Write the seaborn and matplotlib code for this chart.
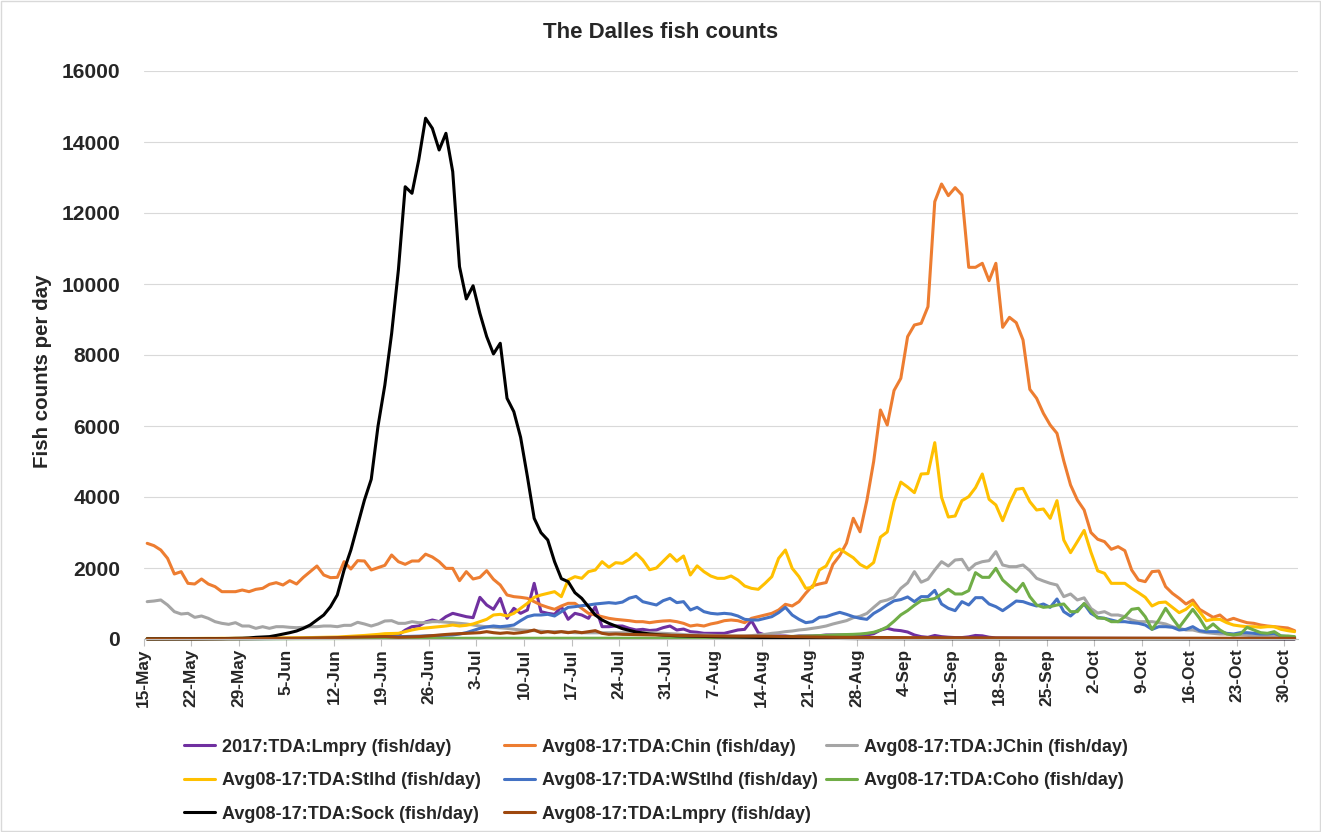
import numpy as np
import pandas as pd
import matplotlib
matplotlib.use("Agg")
import matplotlib.pyplot as plt
from matplotlib.lines import Line2D
from matplotlib.patches import Rectangle
import seaborn as sns

# ---------------- data (daily, 15-May .. 31-Oct) ----------------
start_date = "2017-05-15"
end_date = "2017-10-31"
tick_labels = ["15-May", "22-May", "29-May", "5-Jun", "12-Jun", "19-Jun", "26-Jun",
               "3-Jul", "10-Jul", "17-Jul", "24-Jul", "31-Jul", "7-Aug", "14-Aug",
               "21-Aug", "28-Aug", "4-Sep", "11-Sep", "18-Sep", "25-Sep", "2-Oct",
               "9-Oct", "16-Oct", "23-Oct", "30-Oct"]
y_ticks = [0, 2000, 4000, 6000, 8000, 10000, 12000, 14000, 16000]

lmpry_2017 = [
    5, 5, 5, 5, 5, 6, 6, 6, 7, 7,
    7, 8, 8, 8, 9, 9, 10, 10, 11, 12,
    13, 14, 15, 17, 19, 22, 25, 30, 35, 40,
    45, 50, 55, 60, 70, 80, 95, 113, 250, 347,
    366, 480, 535, 488, 629, 723, 676, 629, 601, 1174,
    958, 836, 1146, 582, 864, 723, 817, 1568, 770, 723,
    695, 911, 554, 723, 676, 582, 911, 347, 347, 366,
    366, 300, 254, 272, 240, 254, 320, 366, 254, 280,
    207, 190, 160, 160, 160, 160, 207, 254, 272, 517,
    178, 113, 85, 85, 85, 66, 85, 85, 85, 94,
    113, 113, 113, 113, 113, 113, 113, 150, 250, 300,
    254, 235, 197, 113, 66, 47, 100, 66, 50, 40,
    40, 60, 100, 90, 50, 30, 28, 26, 25, 25,
    25, 24, 23, 22, 22, 21, 20, 20, 20, 20,
    19, 19, 18, 18, 18, 17, 17, 16, 16, 15,
    15, 15, 14, 14, 14, 13, 13, 12, 12, 12,
    11, 11, 11, 10, 10, 10, 10, 9, 9, 9]

chin = [
    2695, 2629, 2507, 2272, 1831, 1897, 1568, 1549, 1690, 1549,
    1474, 1333, 1333, 1333, 1380, 1333, 1399, 1427, 1540, 1587,
    1521, 1643, 1549, 1737, 1897, 2056, 1803, 1728, 1737, 2178,
    1972, 2207, 2197, 1944, 2009, 2075, 2366, 2178, 2103, 2197,
    2197, 2390, 2310, 2178, 1990, 1990, 1643, 1897, 1690, 1737,
    1925, 1681, 1521, 1240, 1193, 1174, 1146, 1052, 958, 892,
    836, 930, 1005, 1005, 864, 723, 676, 629, 582, 554,
    535, 516, 488, 488, 460, 488, 507, 516, 488, 441,
    366, 394, 366, 423, 460, 516, 535, 516, 460, 582,
    629, 676, 723, 817, 977, 930, 1052, 1290, 1500, 1550,
    1590, 2100, 2350, 2700, 3400, 3020, 3900, 5000, 6451, 6028,
    7000, 7343, 8517, 8845, 8892, 9362, 12320, 12817, 12489, 12714,
    12508, 10470, 10470, 10583, 10094, 10583, 8780, 9061, 8911, 8423,
    7033, 6780, 6357, 6028, 5794, 5020, 4338, 3916, 3634, 3000,
    2810, 2742, 2526, 2601, 2488, 1944, 1662, 1615, 1897, 1916,
    1474, 1286, 1146, 986, 1099, 836, 723, 610, 676, 516,
    582, 516, 460, 441, 394, 366, 347, 329, 310, 235]

jchin = [
    1052, 1070, 1099, 958, 770, 704, 723, 610, 648, 582,
    488, 441, 413, 460, 366, 366, 300, 347, 300, 347,
    347, 329, 319, 329, 347, 347, 366, 366, 347, 385,
    385, 470, 423, 366, 423, 507, 516, 441, 441, 488,
    460, 460, 488, 488, 475, 460, 440, 423, 395, 366,
    345, 329, 315, 300, 275, 254, 245, 235, 220, 207,
    207, 207, 190, 178, 175, 175, 175, 175, 175, 175,
    175, 175, 178, 178, 178, 170, 160, 150, 141, 125,
    113, 113, 113, 105, 94, 90, 85, 85, 85, 95,
    113, 131, 160, 178, 207, 225, 254, 272, 300, 329,
    366, 423, 470, 517, 600, 640, 720, 890, 1052, 1099,
    1180, 1427, 1580, 1897, 1600, 1685, 1944, 2178, 2056, 2225,
    2244, 1944, 2113, 2178, 2207, 2460, 2085, 2038, 2038, 2085,
    1925, 1709, 1634, 1568, 1521, 1193, 1268, 1099, 1160, 860,
    730, 770, 676, 676, 629, 535, 488, 488, 488, 460,
    423, 347, 300, 254, 254, 207, 178, 160, 141, 141,
    113, 113, 103, 85, 85, 85, 85, 66, 47, 28]

stlhd = [
    15, 12, 14, 12, 15, 13, 14, 16, 15, 18,
    17, 20, 18, 22, 20, 24, 22, 25, 24, 28,
    30, 32, 35, 38, 40, 45, 48, 52, 55, 66,
    80, 90, 100, 115, 130, 150, 155, 160, 207, 254,
    291, 310, 329, 347, 366, 394, 366, 385, 423, 488,
    554, 676, 695, 648, 723, 864, 1005, 1174, 1240, 1287,
    1333, 1193, 1662, 1756, 1709, 1897, 1944, 2178, 2019, 2150,
    2131, 2244, 2413, 2225, 1950, 2000, 2190, 2380, 2190, 2338,
    1803, 2060, 1897, 1775, 1709, 1709, 1775, 1662, 1493, 1427,
    1399, 1568, 1756, 2272, 2507, 1991, 1756, 1427, 1455, 1944,
    2056, 2413, 2535, 2413, 2290, 2100, 2000, 2155, 2870, 3015,
    3869, 4420, 4280, 4122, 4648, 4660, 5531, 3990, 3436, 3465,
    3897, 4010, 4263, 4648, 3934, 3775, 3333, 3822, 4216, 4244,
    3869, 3634, 3662, 3399, 3897, 2789, 2432, 2742, 3060, 2446,
    1920, 1850, 1568, 1568, 1568, 1427, 1305, 1174, 930, 1024,
    1042, 892, 742, 836, 1005, 770, 516, 554, 554, 460,
    394, 366, 347, 347, 329, 347, 347, 272, 235, 207]

wstlhd = [
    5, 5, 5, 5, 5, 5, 5, 5, 5, 5,
    6, 6, 6, 7, 7, 8, 8, 9, 9, 10,
    10, 11, 12, 13, 14, 16, 18, 20, 22, 25,
    28, 32, 36, 40, 45, 50, 55, 66, 70, 75,
    80, 88, 94, 100, 105, 113, 140, 178, 240, 300,
    340, 366, 347, 366, 394, 516, 629, 676, 676, 695,
    648, 770, 892, 911, 939, 958, 986, 1005, 1024, 1005,
    1040, 1150, 1200, 1050, 1005, 958, 1080, 1146, 1024, 1052,
    817, 892, 770, 723, 704, 723, 704, 648, 554, 535,
    535, 582, 629, 742, 892, 676, 554, 460, 488, 610,
    629, 695, 751, 695, 629, 582, 554, 720, 830, 960,
    1075, 1110, 1185, 1052, 1193, 1193, 1370, 986, 864, 798,
    1052, 958, 1164, 1164, 986, 911, 798, 930, 1070, 1052,
    986, 930, 986, 892, 1127, 770, 648, 817, 986, 723,
    610, 582, 535, 488, 488, 460, 441, 394, 272, 347,
    347, 329, 254, 272, 347, 235, 207, 207, 207, 160,
    141, 178, 178, 160, 141, 141, 160, 85, 66, 47]

coho = [
    2, 2, 2, 3, 3, 3, 3, 4, 4, 4,
    4, 5, 5, 5, 5, 6, 6, 6, 7, 7,
    8, 8, 9, 9, 10, 10, 11, 11, 12, 12,
    13, 13, 14, 14, 15, 15, 16, 16, 17, 17,
    18, 18, 18, 19, 19, 19, 19, 20, 20, 20,
    20, 20, 20, 20, 20, 20, 20, 20, 20, 20,
    20, 20, 20, 20, 20, 20, 20, 20, 20, 20,
    20, 20, 20, 20, 20, 22, 24, 26, 28, 30,
    32, 35, 38, 42, 47, 50, 52, 55, 57, 60,
    62, 63, 64, 65, 66, 70, 75, 80, 88, 94,
    103, 113, 120, 125, 131, 141, 160, 190, 250, 340,
    500, 680, 800, 950, 1080, 1105, 1140, 1268, 1399, 1268,
    1268, 1362, 1869, 1737, 1737, 1991, 1662, 1493, 1333, 1568,
    1193, 958, 892, 911, 958, 986, 770, 770, 1000, 790,
    590, 582, 488, 488, 629, 836, 864, 629, 272, 535,
    864, 582, 329, 582, 836, 582, 272, 423, 254, 141,
    113, 141, 329, 254, 178, 160, 207, 85, 85, 66]

sock = [
    3, 3, 4, 4, 5, 5, 6, 6, 7, 8,
    10, 12, 15, 18, 22, 30, 47, 55, 66, 100,
    140, 178, 225, 300, 394, 535, 676, 911, 1240, 1944,
    2507, 3211, 3916, 4500, 6000, 7150, 8600, 10400, 12740, 12555,
    13500, 14670, 14385, 13775, 14245, 13165, 10490, 9580, 9950, 9175,
    8520, 8030, 8330, 6780, 6404, 5681, 4573, 3399, 2995, 2789,
    2178, 1700, 1615, 1305, 1146, 911, 676, 535, 441, 366,
    291, 244, 197, 169, 141, 125, 110, 100, 90, 85,
    80, 75, 70, 66, 62, 58, 55, 50, 47, 45,
    42, 38, 35, 32, 28, 26, 24, 22, 20, 19,
    17, 15, 14, 12, 11, 10, 10, 9, 9, 8,
    8, 7, 7, 7, 6, 6, 6, 6, 5, 5,
    5, 5, 5, 5, 5, 4, 4, 4, 4, 4,
    4, 4, 4, 4, 3, 3, 3, 3, 3, 3,
    3, 3, 3, 3, 3, 3, 2, 2, 2, 2,
    2, 2, 2, 2, 2, 2, 2, 2, 2, 2,
    2, 2, 2, 2, 2, 1, 1, 1, 1, 1]

lmpry_avg = [
    3, 3, 3, 4, 4, 4, 5, 5, 5, 6,
    6, 7, 7, 8, 8, 9, 10, 11, 12, 13,
    15, 17, 19, 22, 25, 28, 32, 36, 40, 45,
    50, 55, 58, 62, 66, 70, 60, 47, 55, 60,
    66, 80, 95, 113, 128, 141, 150, 160, 170, 178,
    207, 178, 160, 178, 160, 178, 207, 254, 178, 207,
    178, 207, 178, 207, 178, 207, 235, 160, 131, 141,
    131, 128, 125, 122, 118, 113, 110, 105, 100, 95,
    90, 88, 86, 84, 82, 80, 80, 80, 80, 80,
    80, 78, 75, 72, 70, 66, 62, 58, 55, 52,
    50, 48, 47, 46, 45, 44, 43, 42, 41, 40,
    40, 39, 38, 38, 37, 36, 36, 35, 35, 34,
    34, 33, 33, 32, 32, 31, 31, 30, 30, 30,
    29, 29, 28, 28, 28, 27, 27, 27, 26, 26,
    26, 25, 25, 25, 24, 24, 24, 24, 23, 23,
    23, 23, 22, 22, 22, 22, 21, 21, 21, 21,
    20, 20, 20, 20, 20, 19, 19, 19, 19, 18]

series_names = ["2017:TDA:Lmpry (fish/day)", "Avg08-17:TDA:Chin (fish/day)",
                "Avg08-17:TDA:JChin (fish/day)", "Avg08-17:TDA:Stlhd (fish/day)",
                "Avg08-17:TDA:WStlhd (fish/day)", "Avg08-17:TDA:Coho (fish/day)",
                "Avg08-17:TDA:Sock (fish/day)", "Avg08-17:TDA:Lmpry (fish/day)"]
series_values = [lmpry_2017, chin, jchin, stlhd, wstlhd, coho, sock, lmpry_avg]
series_colors = ["#7030A0", "#ED7D31", "#A5A5A5", "#FFC000",
                 "#4472C4", "#70AD47", "#000000", "#9E480E"]

dates = pd.date_range(start_date, end_date, freq="D")
for v in series_values:
    assert len(v) == len(dates), len(v)

frames = []
for name, vals in zip(series_names, series_values):
    frames.append(pd.DataFrame({"day": np.arange(len(dates)), "date": dates,
                                "series": name, "value": vals}))
df = pd.concat(frames, ignore_index=True)

# ---------------- style ----------------
sns.set_theme(style="white")
plt.rcParams["font.family"] = ["Liberation Sans", "DejaVu Sans"]
plt.rcParams["font.weight"] = "bold"

W, H = 1321, 832
fig = plt.figure(figsize=(W / 100, H / 100), dpi=100)
fig.patch.set_facecolor("white")
left_px, right_px, top_px, bottom_px = 143.8, 1298, 71, 639
ax = fig.add_axes([left_px / W, 1 - bottom_px / H,
                   (right_px - left_px) / W, (bottom_px - top_px) / H])

sns.lineplot(data=df, x="day", y="value", hue="series", hue_order=series_names,
             palette=series_colors, linewidth=2.2, legend=False, ax=ax,
             estimator=None, errorbar=None)
for ln in ax.lines:
    ln.set_clip_on(False)
    ln.set_solid_joinstyle("round")

ax.set_xlim(-0.5, len(dates) - 0.5)
ax.set_ylim(0, 16000)
ax.set_xticks([7 * k - 0.5 for k in range(len(tick_labels))])
ax.set_xticklabels(tick_labels, rotation=90, fontsize=12.4, fontweight="bold")
ax.set_yticks(y_ticks)
ax.set_yticklabels([str(t) for t in y_ticks], fontsize=15.1, fontweight="bold")
ax.tick_params(axis="x", length=5, width=0.8, color="#bfbfbf", pad=2, bottom=True)
ax.tick_params(axis="y", length=0, pad=17)
ax.grid(axis="y", color="#d9d9d9", linewidth=0.8)
ax.grid(axis="x", visible=False)
ax.set_axisbelow(True)
for s in ["left", "top", "right"]:
    ax.spines[s].set_visible(False)
ax.spines["bottom"].set_color("#bfbfbf")
ax.spines["bottom"].set_linewidth(0.8)
ax.set_xlabel("")
ax.set_ylabel("Fish counts per day", fontsize=14.8, fontweight="bold")
ax.yaxis.set_label_coords((51.7 - left_px) / (right_px - left_px),
                          (bottom_px - 371.5) / (bottom_px - top_px))

fig.text(0.5, 1 - 32 / H, "The Dalles fish counts", ha="center", va="center",
         fontsize=16, fontweight="bold")

# legend: three columns, rows filled left to right
cols = [[0, 3, 6], [1, 4, 7], [2, 5]]
col_x = [184, 504, 826]
for cx, idx in zip(col_x, cols):
    handles = [Line2D([0], [0], color=series_colors[i], lw=2.2) for i in idx]
    labels = [series_names[i] for i in idx]
    fig.legend(handles, labels, loc="upper left", bbox_to_anchor=(cx / W, 1 - 738.5 / H),
               frameon=False, borderpad=0, borderaxespad=0, handlelength=1.7,
               handletextpad=0.4, labelspacing=0.92,
               prop={"size": 13, "weight": "bold"})

fig.patches.append(Rectangle((0.0008, 0.0012), 0.9984, 0.9976, transform=fig.transFigure,
                             fill=False, edgecolor="#d9d9d9", linewidth=1))

fig.savefig("out.png", dpi=100)
